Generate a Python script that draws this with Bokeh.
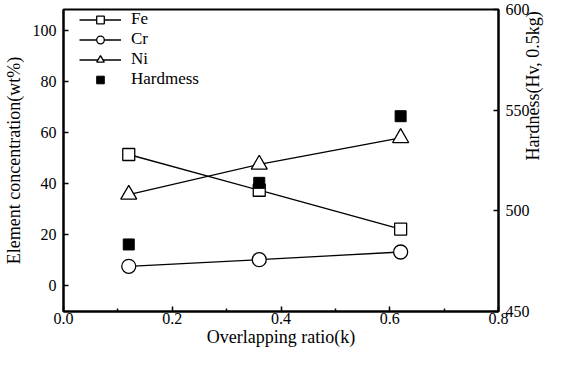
import math
from bokeh.plotting import figure
from bokeh.models import Range1d, LinearAxis, FixedTicker, PrintfTickFormatter, Legend, LegendItem
from bokeh.embed import file_html
from bokeh.resources import INLINE

ratio = [0.12, 0.36, 0.62]
fe = [51.5, 37.5, 22.3]
cr = [7.7, 10.3, 13.3]
ni = [35.8, 47.6, 58.0]
hardness = [483.3, 513.9, 547.0]

x_ticks = [0.0, 0.2, 0.4, 0.6, 0.8]
x_minor = [0.1, 0.3, 0.5, 0.7]
left_ticks = [0, 20, 40, 60, 80, 100]
right_ticks = [450, 500, 550, 600]

SERIF = "Liberation Serif"

p = figure(width=555, height=351, x_range=Range1d(0, 0.8), y_range=Range1d(-10, 108.3),
           output_backend="svg", toolbar_location=None, title=None,
           min_border_left=59, min_border_right=53, min_border_top=9, min_border_bottom=40)
p.extra_y_ranges = {"right": Range1d(450, 600)}
p.xgrid.visible = False
p.ygrid.visible = False
p.outline_line_color = "black"
p.outline_line_width = 2
p.background_fill_color = "white"
p.border_fill_color = "white"

ra = LinearAxis(y_range_name="right")
p.add_layout(ra, "right")

for ax in [p.xaxis[0], p.yaxis[0], ra]:
    ax.axis_line_color = "black"
    ax.axis_line_width = 2
    ax.major_tick_in = 5
    ax.major_tick_out = 0
    ax.minor_tick_in = 3
    ax.minor_tick_out = 0
    ax.major_tick_line_color = "black"
    ax.major_tick_line_width = 1.5
    ax.minor_tick_line_color = "black"
    ax.minor_tick_line_width = 1.5
    ax.major_label_text_font = SERIF
    ax.major_label_text_font_size = "16px"
    ax.major_label_text_color = "black"
    ax.axis_label_text_font = SERIF
    ax.axis_label_text_font_size = "18px"
    ax.axis_label_text_font_style = "normal"
    ax.axis_label_text_color = "black"

p.xaxis[0].ticker = FixedTicker(ticks=x_ticks, minor_ticks=x_minor)
p.xaxis[0].formatter = PrintfTickFormatter(format="%.1f")
p.xaxis[0].axis_label = "Overlapping ratio(k)"
p.xaxis[0].major_label_standoff = 1
p.xaxis[0].axis_label_standoff = 0

p.yaxis[0].ticker = FixedTicker(ticks=left_ticks, minor_ticks=[])
p.yaxis[0].axis_label = "Element concentration(wt%)"
p.yaxis[0].major_label_standoff = 7
p.yaxis[0].axis_label_standoff = 6

ra.ticker = FixedTicker(ticks=right_ticks, minor_ticks=[])
ra.axis_label = "Hardness(Hv, 0.5kg)"
ra.axis_label_orientation = math.pi / 2
ra.major_label_standoff = 7
ra.axis_label_standoff = 0

l_fe = p.line(ratio, fe, line_color="black", line_width=1.3)
s_fe = p.scatter(ratio, fe, marker="square", size=12, fill_color="white", line_color="black", line_width=1.3)
l_cr = p.line(ratio, cr, line_color="black", line_width=1.3)
s_cr = p.scatter(ratio, cr, marker="circle", size=14, fill_color="white", line_color="black", line_width=1.3)
l_ni = p.line(ratio, ni, line_color="black", line_width=1.3)
s_ni = p.scatter(ratio, ni, marker="triangle", size=16, fill_color="white", line_color="black", line_width=1.3)
s_h = p.scatter(ratio, hardness, marker="square", size=11, fill_color="black", line_color="black",
                y_range_name="right")

legend = Legend(items=[
    LegendItem(label="Fe", renderers=[l_fe, s_fe]),
    LegendItem(label="Cr", renderers=[l_cr, s_cr]),
    LegendItem(label="Ni", renderers=[l_ni, s_ni]),
    LegendItem(label="Hardmess", renderers=[s_h]),
], location=(16, 222))
legend.margin = 0
legend.padding = 0
legend.spacing = 0
legend.glyph_width = 42
legend.glyph_height = 19
legend.label_height = 19
legend.label_standoff = 10
legend.label_text_font = SERIF
legend.label_text_font_size = "17px"
legend.label_text_color = "black"
legend.border_line_color = None
legend.background_fill_alpha = 0
p.add_layout(legend, "center")

open("out.html", "w").write(file_html(p, INLINE))
